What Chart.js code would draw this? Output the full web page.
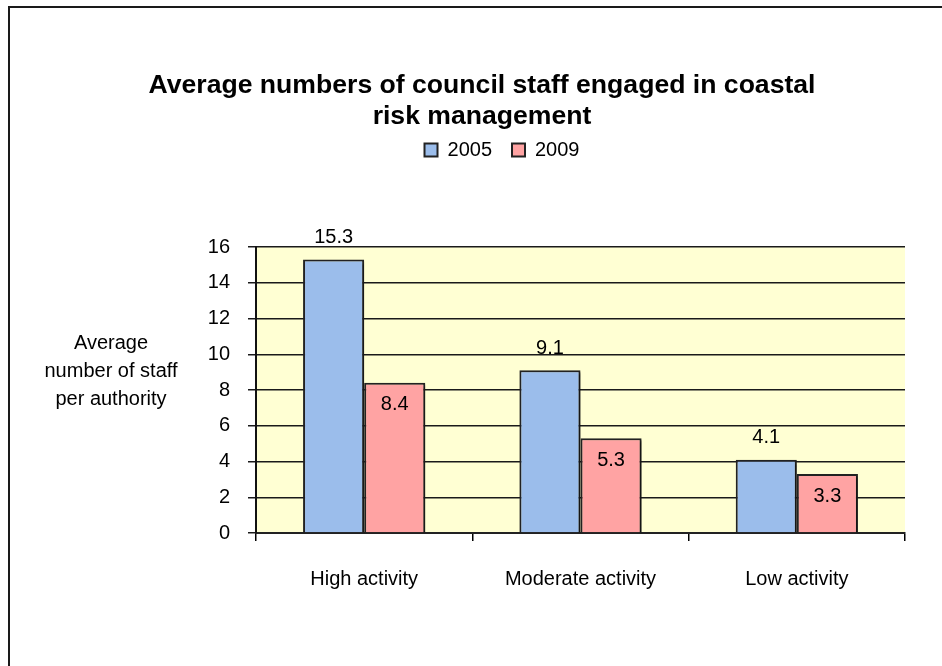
<!DOCTYPE html>
<html>
<head>
<meta charset="utf-8">
<script src="https://cdn.jsdelivr.net/npm/chart.js@4/dist/chart.umd.min.js"></script>
<style>
  html, body { margin: 0; padding: 0; background: #ffffff; overflow: hidden; }
  #frame { position: absolute; left: 8px; top: 6px; width: 1000px; height: 720px; border: 2px solid #1a1a1a; box-sizing: border-box; }
  #wrap { position: absolute; left: 0; top: 0; width: 942px; height: 666px; }
</style>
</head>
<body>
<div id="frame"></div>
<div id="wrap"><canvas id="c" width="942" height="666"></canvas></div>
<script>
// ---- data ----
const categories = ["High activity", "Moderate activity", "Low activity"];
const seriesNames = ["2005", "2009"];
const values2005 = [15.3, 9.1, 4.1];
const values2009 = [8.4, 5.3, 3.3];
const yTicks = [0, 2, 4, 6, 8, 10, 12, 14, 16];
const titleLines = ["Average numbers of council staff engaged in coastal", "risk management"];
const yTitleLines = ["Average", "number of staff", "per authority"];

const FONT = "'Liberation Sans', Arial, sans-serif";

const plotBg = {
  id: 'plotBg',
  beforeDraw(chart) {
    const {ctx, chartArea: a} = chart;
    ctx.save();
    ctx.fillStyle = '#FFFFD3';
    ctx.fillRect(a.left, a.top, a.right - a.left, a.bottom - a.top);
    ctx.restore();
  }
};

const legendShift = {
  id: 'legendShift',
  afterLayout(chart) {
    if (chart.legend) { chart.legend.left += 20; chart.legend.right += 20; }
  }
};

const barShadow = {
  id: 'barShadow',
  beforeDatasetsDraw(chart) {
    const ctx = chart.ctx;
    ctx.save();
    ctx.shadowColor = 'rgba(0,0,0,0.4)';
    ctx.shadowOffsetX = 2;
    ctx.shadowOffsetY = 2;
    ctx.shadowBlur = 2;
  },
  afterDatasetsDraw(chart) {
    chart.ctx.restore();
  }
};

const valueLabels = {
  id: 'valueLabels',
  afterDatasetsDraw(chart) {
    const ctx = chart.ctx;
    ctx.save();
    ctx.font = '20px ' + FONT;
    ctx.fillStyle = '#000';
    ctx.textAlign = 'center';
    ctx.textBaseline = 'middle';
    chart.data.datasets.forEach((ds, di) => {
      const meta = chart.getDatasetMeta(di);
      meta.data.forEach((el, i) => {
        const v = ds.data[i];
        const y = di === 0 ? el.y - 22 : el.y + 22;
        ctx.fillText(v.toFixed(1), el.x, y);
      });
    });
    ctx.restore();
  }
};

const yTitle = {
  id: 'yTitle',
  afterDraw(chart) {
    const ctx = chart.ctx;
    const a = chart.chartArea;
    ctx.save();
    ctx.font = '20px ' + FONT;
    ctx.fillStyle = '#000';
    ctx.textAlign = 'center';
    ctx.textBaseline = 'middle';
    const cx = a.left - 145;
    const cy = (a.top + a.bottom) / 2 - 19;
    yTitleLines.forEach((t, i) => ctx.fillText(t, cx, cy + (i - 1) * 28));
    ctx.restore();
  }
};

new Chart(document.getElementById('c'), {
  type: 'bar',
  data: {
    labels: categories,
    datasets: [
      { label: seriesNames[0], data: values2005, backgroundColor: '#9BBDEB', borderColor: '#222', borderWidth: 2,
        categoryPercentage: 0.565, barPercentage: 1.0 },
      { label: seriesNames[1], data: values2009, backgroundColor: '#FFA3A3', borderColor: '#222', borderWidth: 2,
        categoryPercentage: 0.565, barPercentage: 1.0 }
    ]
  },
  options: {
    responsive: false,
    animation: false,
    devicePixelRatio: 1,
    layout: { padding: { top: 0, left: 59, right: 37, bottom: 73 } },
    plugins: {
      title: {
        display: true,
        text: titleLines,
        color: '#000',
        font: { family: FONT, size: 26.6, weight: 'bold', lineHeight: '31px' },
        padding: { top: 70, bottom: -12 }
      },
      subtitle: {
        display: true,
        text: ' ',
        position: 'top',
        weight: 500,
        font: { family: FONT, size: 10, lineHeight: '77px' },
        padding: 0
      },
      legend: {
        display: true,
        position: 'top',
        labels: {
          color: '#000',
          font: { family: FONT, size: 20 },
          boxWidth: 13,
          boxHeight: 13,
          padding: 20
        }
      },
      tooltip: { enabled: false }
    },
    scales: {
      x: {
        grid: { display: true, drawOnChartArea: false, drawTicks: true, tickLength: 8, color: '#000', lineWidth: 1.5, offset: true },
        border: { display: true, color: '#222', width: 2 },
        ticks: { color: '#000', font: { family: FONT, size: 20 }, padding: 26 },
        afterFit(scale) { scale.height = 60; }
      },
      y: {
        min: 0, max: 16,
        afterBuildTicks(scale) { scale.ticks = yTicks.map(v => ({ value: v })); },
        grid: { color: '#1a1a1a', lineWidth: 1.5, tickLength: 8, drawTicks: true },
        border: { display: true, color: '#111', width: 2 },
        ticks: { color: '#000', font: { family: FONT, size: 20 }, padding: 18 },
        afterFit(scale) { scale.width = 197; }
      }
    }
  },
  plugins: [plotBg, legendShift, barShadow, valueLabels, yTitle]
});
</script>
</body>
</html>
